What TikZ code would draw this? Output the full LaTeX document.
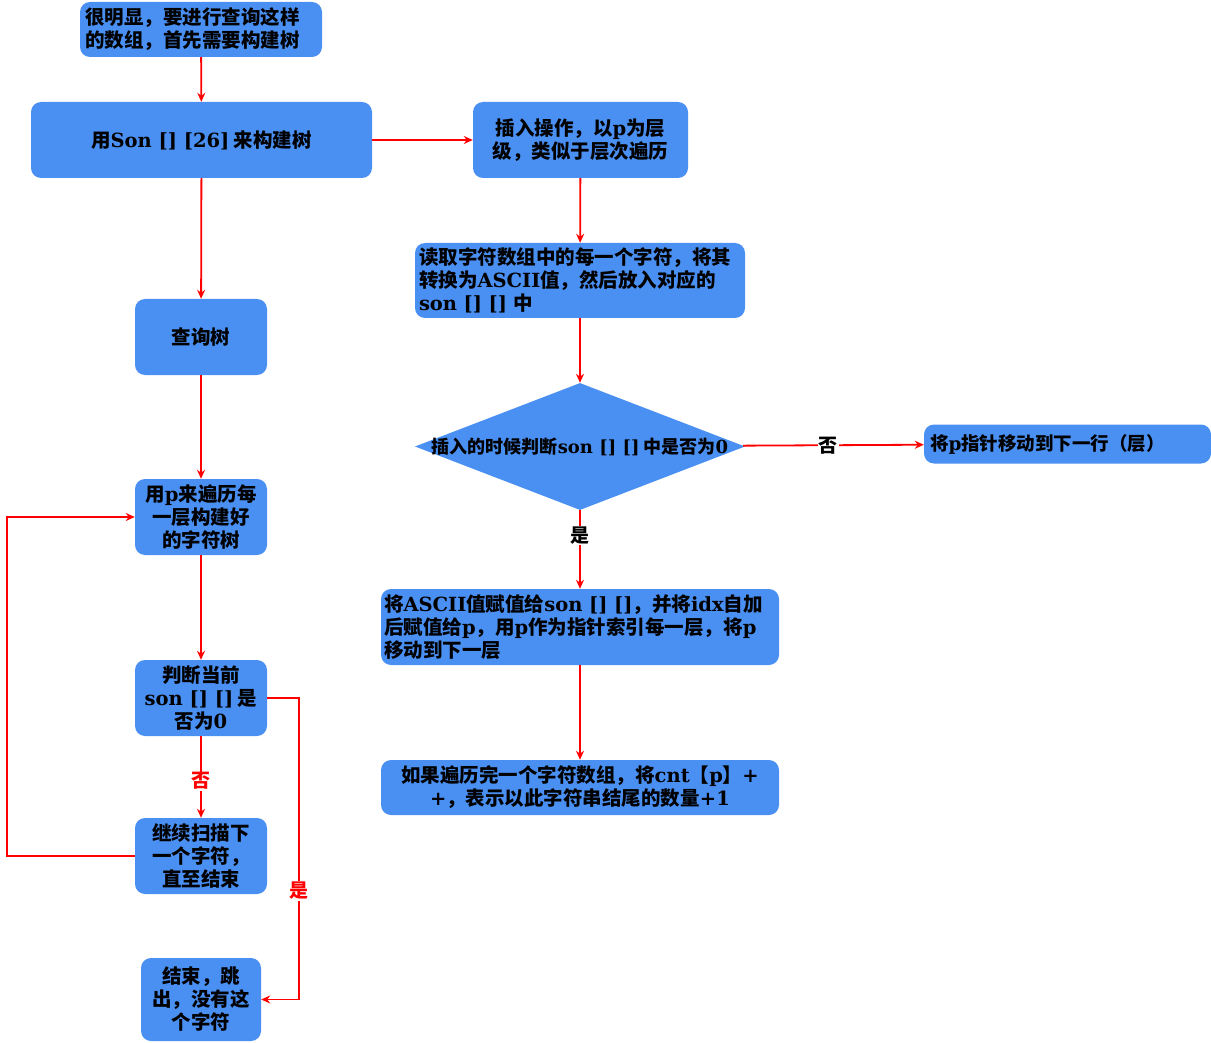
\documentclass[tikz,border=0pt]{standalone}
\usepackage{fontspec}
\usetikzlibrary{shapes.geometric,arrows.meta}
\newfontfamily\cjkf{Noto Sans CJK SC}
\newfontfamily\latf{DejaVu Serif}
\newcommand{\lt}[1]{{\latf #1}}
\definecolor{boxblue}{RGB}{74,143,242}
\tikzset{
  x=1pt, y=-1pt,
  box/.style={rectangle, rounded corners=10pt, fill=boxblue, draw=none, inner sep=0pt,
    font=\cjkf\bfseries\fontsize{19.5}{23}\selectfont, align=center},
  narrowtxt/.style={font=\cjkf\bfseries\fontsize{18}{21}\selectfont, inner sep=0pt},
  conn/.style={draw=red, line width=1.8pt, -{Stealth[length=9pt,width=8pt]}},
  redlab/.style={fill=white, text=red, inner sep=1pt, font=\cjkf\bfseries\fontsize{19}{21}\selectfont},
  blacklab/.style={fill=white, text=black, inner sep=1pt, font=\cjkf\bfseries\fontsize{19}{21}\selectfont},
}
\begin{document}
\begin{tikzpicture}
\useasboundingbox (0,0) rectangle (1211,1043);
% left column
\node[box, minimum width=242, minimum height=55, text width=232, align=left] (n1) at (201,29.5)
  {很明显，要进行查询这样\\的数组，首先需要构建树};
\node[box, minimum width=341, minimum height=76] (n2) at (201.5,140)
  {用\lt{Son [] [26]} 来构建树};
\node[box, minimum width=132, minimum height=76] (n5) at (201,337) {查询树};
\node[box, minimum width=132, minimum height=76] (n8) at (201,517)
  {用\lt{p}来遍历每\\一层构建好\\的字符树};
\node[box, minimum width=132, minimum height=76] (n10) at (201,698)
  {判断当前\\\lt{son [] []} 是\\否为\lt{0}};
\node[box, minimum width=132, minimum height=76] (n12) at (201,856)
  {继续扫描下\\一个字符，\\直至结束};
\node[box, minimum width=120, minimum height=83] (n13) at (201,999.5)
  {结束，跳\\出，没有这\\个字符};
% right column
\node[box, minimum width=215, minimum height=76] (n3) at (580.5,140)
  {插入操作，以\lt{p}为层\\级，类似于层次遍历};
\node[box, minimum width=330, minimum height=75, text width=322, align=left] (n4) at (580,280.5)
  {读取字符数组中的每一个字符，将其\\转换为\lt{ASCII}值，然后放入对应的\\\lt{son [] []} 中};
\node[diamond, fill=boxblue, minimum width=330, minimum height=127, inner sep=0pt] (d) at (580,446.5) {};
\node[narrowtxt] (dtext) at (d.center) {插入的时候判断\lt{son [] []} 中是否为\lt{0}};
\node[box, minimum width=287, minimum height=39, text width=275, align=left] (n7) at (1067.5,444)
  {\fontsize{18.5}{21}\selectfont 将\lt{p}指针移动到下一行（层）};
\node[box, minimum width=398, minimum height=76, text width=392, align=left] (n9) at (580,627)
  {将\lt{ASCII}值赋值给\lt{son [] []}，并将\lt{idx}自加\\后赋值给\lt{p}，用\lt{p}作为指针索引每一层，将\lt{p}\\移动到下一层};
\node[box, minimum width=398, minimum height=55] (n11) at (580,787.5)
  {如果遍历完一个字符数组，将\lt{cnt}【\lt{p}】\lt{+}\\\lt{+}，表示以此字符串结尾的数量\lt{+1}};
% connectors
\draw[conn] (n1) -- (n2);
\draw[conn] (n2) -- (n3);
\draw[conn] (n2) -- (n5);
\draw[conn] (n3) -- (n4);
\draw[conn] (n4) -- (d);
\draw[conn] (d) -- (n7) node[blacklab, pos=0.47] (lno1) {否};
\draw[conn] (d) -- (n9) node[blacklab, pos=0.32] (lyes1) {是};
\draw[conn] (n9) -- (n11);
\draw[conn] (n5) -- (n8);
\draw[conn] (n8) -- (n10);
\draw[conn] (n10) -- (n12) node[redlab, pos=0.55] (lno2) {否};
\coordinate (c1) at (7,856);
\coordinate (c2) at (7,517);
\draw[conn] (n12.west) -- (c1) -- (c2) -- (n8.west);
\coordinate (c3) at (299,698);
\coordinate (c4) at (299,999.5);
\draw[conn] (n10.east) -- (c3) -- (c4) -- (n13.east);
\node[redlab] (lyes2) at (299,891) {是};
\end{tikzpicture}
\end{document}
